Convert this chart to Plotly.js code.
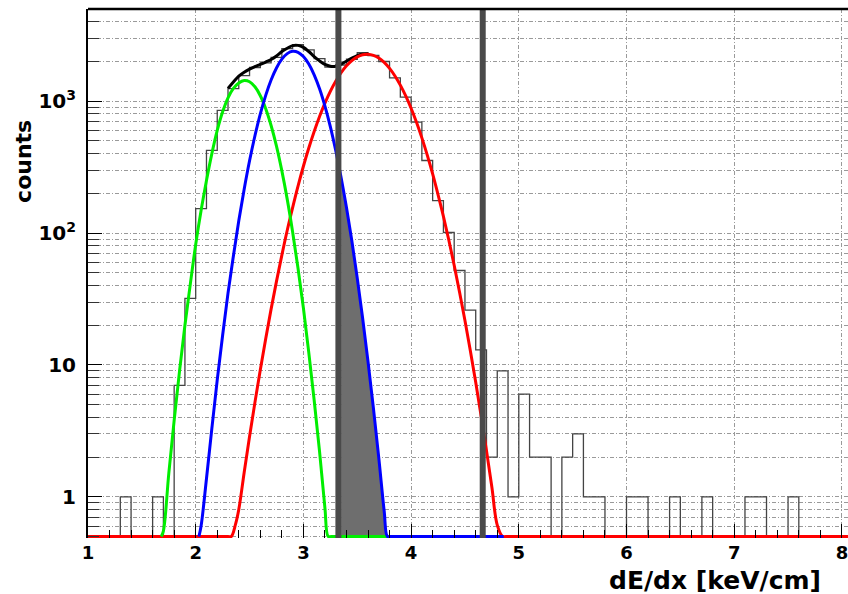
<!DOCTYPE html>
<html><head><meta charset="utf-8">
<script src="https://cdn.plot.ly/plotly-3.0.1.min.js"></script>
<style>html,body{margin:0;padding:0;background:#fff}#chart{width:848px;height:594px}</style>
</head><body><div id="chart"></div>
<script>
// ---- histogram: 70 bins of 0.1 from 1.0 to 8.0 ----
const binStart = 1.0;
const binWidth = 0.1;
const counts = [
  0, 0, 0, 1, 0, 0, 1, 0, 7, 32,
  153, 423, 851, 1243, 1560, 1800, 1950, 2150, 2500, 2680,
  2450, 2100, 1813, 1880, 2080, 2330, 2220, 2000, 1500, 1074,
  693, 355, 176, 101, 52, 26, 13, 2, 9, 1,
  6, 2, 2, 0, 2, 3, 1, 1, 0, 0,
  1, 1, 0, 0, 1, 0, 0, 1, 0, 0,
  0, 1, 1, 0, 0, 1, 0, 0, 0, 0
];

// ---- total fit (black) ----
const sumX = [2.30,2.35,2.40,2.45,2.50,2.55,2.60,2.65,2.70,2.75,2.80,2.85,2.90,2.95,3.00,3.05,3.10,3.15,3.20,3.25,3.30,3.35,3.40,3.45,3.50,3.55,3.60];
const sumY = [1250,1400,1550,1660,1750,1830,1900,1980,2070,2200,2380,2520,2640,2650,2560,2380,2180,2020,1900,1840,1840,1910,2010,2120,2215,2265,2280];

// ---- green component (0.5 = lying on the axis floor) ----
const greenX = [1.68,1.70,1.75,1.80,1.85,1.90,1.95,2.00,2.05,2.10,2.15,2.20,2.25,2.30,2.35,2.40,2.45,2.50,2.55,2.60,2.65,2.70,2.75,2.80,2.85,2.90,2.95,3.00,3.05,3.10,3.15,3.20,3.23,3.26,3.80];
const greenY = [0.5,0.55,1.5,3.8,9.0,20,41,82,148,250,400,600,830,1060,1250,1375,1435,1405,1285,1100,877,654,456,296,180,102,54,27,12.4,5.4,2.2,0.82,0.5,0.5,0.5];

// ---- blue component ----
const blueX = [2.03,2.05,2.10,2.15,2.20,2.25,2.30,2.35,2.40,2.45,2.50,2.55,2.60,2.65,2.70,2.75,2.80,2.85,2.90,2.95,3.00,3.05,3.10,3.15,3.20,3.25,3.30,3.35,3.40,3.45,3.50,3.55,3.60,3.65,3.70,3.75,3.78,3.81,4.86];
const blueY = [0.5,0.6,1.37,3.3,7.7,16.8,35,67,124,215,353,547,801,1107,1447,1786,2083,2294,2387,2347,2180,1912,1585,1241,918,642,423,264,156,87,45.5,22.6,10.6,4.7,1.97,0.78,0.5,0.5,0.5];

// ---- red component ----
const redX = [1.00,2.30,2.33,2.37,2.40,2.45,2.50,2.55,2.60,2.65,2.70,2.75,2.80,2.85,2.90,2.95,3.00,3.05,3.10,3.15,3.20,3.25,3.30,3.35,3.40,3.45,3.50,3.55,3.60,3.65,3.70,3.75,3.80,3.85,3.90,3.95,4.00,4.05,4.10,4.15,4.20,4.25,4.30,4.35,4.40,4.45,4.50,4.55,4.60,4.65,4.70,4.75,4.80,4.85,4.88,8.10];
const redY = [0.5,0.5,0.5,0.62,0.80,1.53,2.87,5.2,9.2,15.8,26.5,43,68,105,156,227,321,441,589,765,966,1186,1415,1643,1853,2033,2169,2250,2269,2225,2121,1966,1772,1553,1323,1096,883,691,527,390,281,196,134,88.5,57,35.6,21.7,12.8,7.4,4.1,2.24,1.18,0.61,0.5,0.5,0.5];

// ---- selection cuts (vertical lines) ----
const cuts = [3.325, 4.665];

// ---- axis ticks ----
const xTicks = [1,2,3,4,5,6,7,8];
const yMajorVals = [1, 10, 100, 1000];
const yMajorText = ["1", "10", "10<sup>2</sup>", "10<sup>3</sup>"];

// build histogram step arrays
const histX = [], histY = [];
for (let i = 0; i < counts.length; i++) {
  histX.push(+(binStart + i * binWidth).toFixed(3));
  histY.push(counts[i] > 0 ? counts[i] : 1e-3);
}
histX.push(+(binStart + counts.length * binWidth).toFixed(3));
histY.push(histY[histY.length - 1]);

// minor y tick values (2..9 x decade, plus 0.5..0.9)
const yMinorVals = [];
[0.1, 1, 10, 100, 1000].forEach(d => {
  for (let m = 2; m <= 9; m++) {
    const v = +(m * d).toPrecision(3);
    if (v < 0.5 || v > 5000) continue;
    yMinorVals.push(v);
  }
});

// shaded region under blue beyond first cut
const shadeX = [], shadeY = [];
blueX.forEach((x, i) => { if (x >= cuts[0] && x <= 3.80) { shadeX.push(x); shadeY.push(blueY[i]); } });

const FONT = "DejaVu Sans, Liberation Sans, Arial, sans-serif";
const GRID = {color: "#9a9a9a", dash: "4px,2px,1px,2px"};

const traces = [
  {x: histX, y: histY, mode: "lines", line: {shape: "hv", color: "#444444", width: 1.3}, hoverinfo: "skip", showlegend: false},
  {x: shadeX, y: shadeY, mode: "lines", line: {shape: "spline", width: 0}, fill: "tozeroy", fillcolor: "#6e6e6e", hoverinfo: "skip", showlegend: false},
  {x: sumX, y: sumY, mode: "lines", line: {shape: "spline", color: "#000000", width: 3}, showlegend: false},
  {x: redX, y: redY, mode: "lines", line: {shape: "spline", color: "#ff0000", width: 3}, showlegend: false},
  {x: greenX, y: greenY, mode: "lines", line: {shape: "spline", color: "#00ee00", width: 3}, showlegend: false},
  {x: blueX, y: blueY, mode: "lines", line: {shape: "spline", color: "#0000ff", width: 3}, showlegend: false}
];

const shapes = cuts.map(c => ({
  type: "line", xref: "x", yref: "paper", x0: c, x1: c, y0: 0, y1: 1,
  line: {color: "#4a4a4a", width: 6}
}));
// top frame line
shapes.push({type: "line", xref: "paper", yref: "paper", x0: 0, x1: 1, y0: 1, y1: 1, line: {color: "#000", width: 2.5}});

const layout = {
  width: 848, height: 594,
  margin: {l: 88, r: 0, t: 9, b: 56},
  paper_bgcolor: "#ffffff", plot_bgcolor: "#ffffff",
  showlegend: false,
  xaxis: {
    range: [1, 8.0566], tickvals: xTicks, ticktext: xTicks.map(String),
    ticks: "inside", ticklen: 14, tickwidth: 1, tickcolor: "#000",
    minor: {dtick: 0.2, tick0: 1, ticks: "inside", ticklen: 8, tickcolor: "#000", showgrid: false},
    showgrid: true, gridcolor: GRID.color, griddash: GRID.dash, gridwidth: 1,
    showline: false, zeroline: false,
    ticklabeloverflow: "allow",
    tickfont: {family: FONT, size: 18, color: "#000", weight: "bold"},
    ticklabelstandoff: 2
  },
  yaxis: {
    type: "log", range: [Math.log10(0.487), Math.log10(5000)],
    tickmode: "array", tickvals: yMajorVals, ticktext: yMajorText,
    ticks: "inside", ticklen: 14, tickwidth: 1, tickcolor: "#000",
    minor: {tickmode: "array", tickvals: yMinorVals, ticks: "inside", ticklen: 11, tickcolor: "#333",
            showgrid: true, gridcolor: GRID.color, griddash: GRID.dash, gridwidth: 1},
    showgrid: true, gridcolor: GRID.color, griddash: GRID.dash, gridwidth: 1,
    showline: true, linecolor: "#000", linewidth: 2, mirror: false,
    zeroline: false,
    tickfont: {family: FONT, size: 20, color: "#000", weight: "bold"},
    ticklabelstandoff: 6
  },
  shapes: shapes,
  annotations: [
    {text: "counts", xref: "paper", yref: "paper", x: -0.0842, y: 0.711, xanchor: "center", yanchor: "middle",
     textangle: -90, showarrow: false, font: {family: FONT, size: 22, color: "#000", weight: "bold"}},
    {text: "dE/dx [keV/cm]", xref: "paper", yref: "paper", x: 0.967, y: -0.0794, xanchor: "right", yanchor: "middle",
     showarrow: false, font: {family: FONT, size: 25, color: "#000", weight: "bold"}}
  ]
};

Plotly.newPlot("chart", traces, layout, {displayModeBar: false, staticPlot: true});
</script>
</body></html>
